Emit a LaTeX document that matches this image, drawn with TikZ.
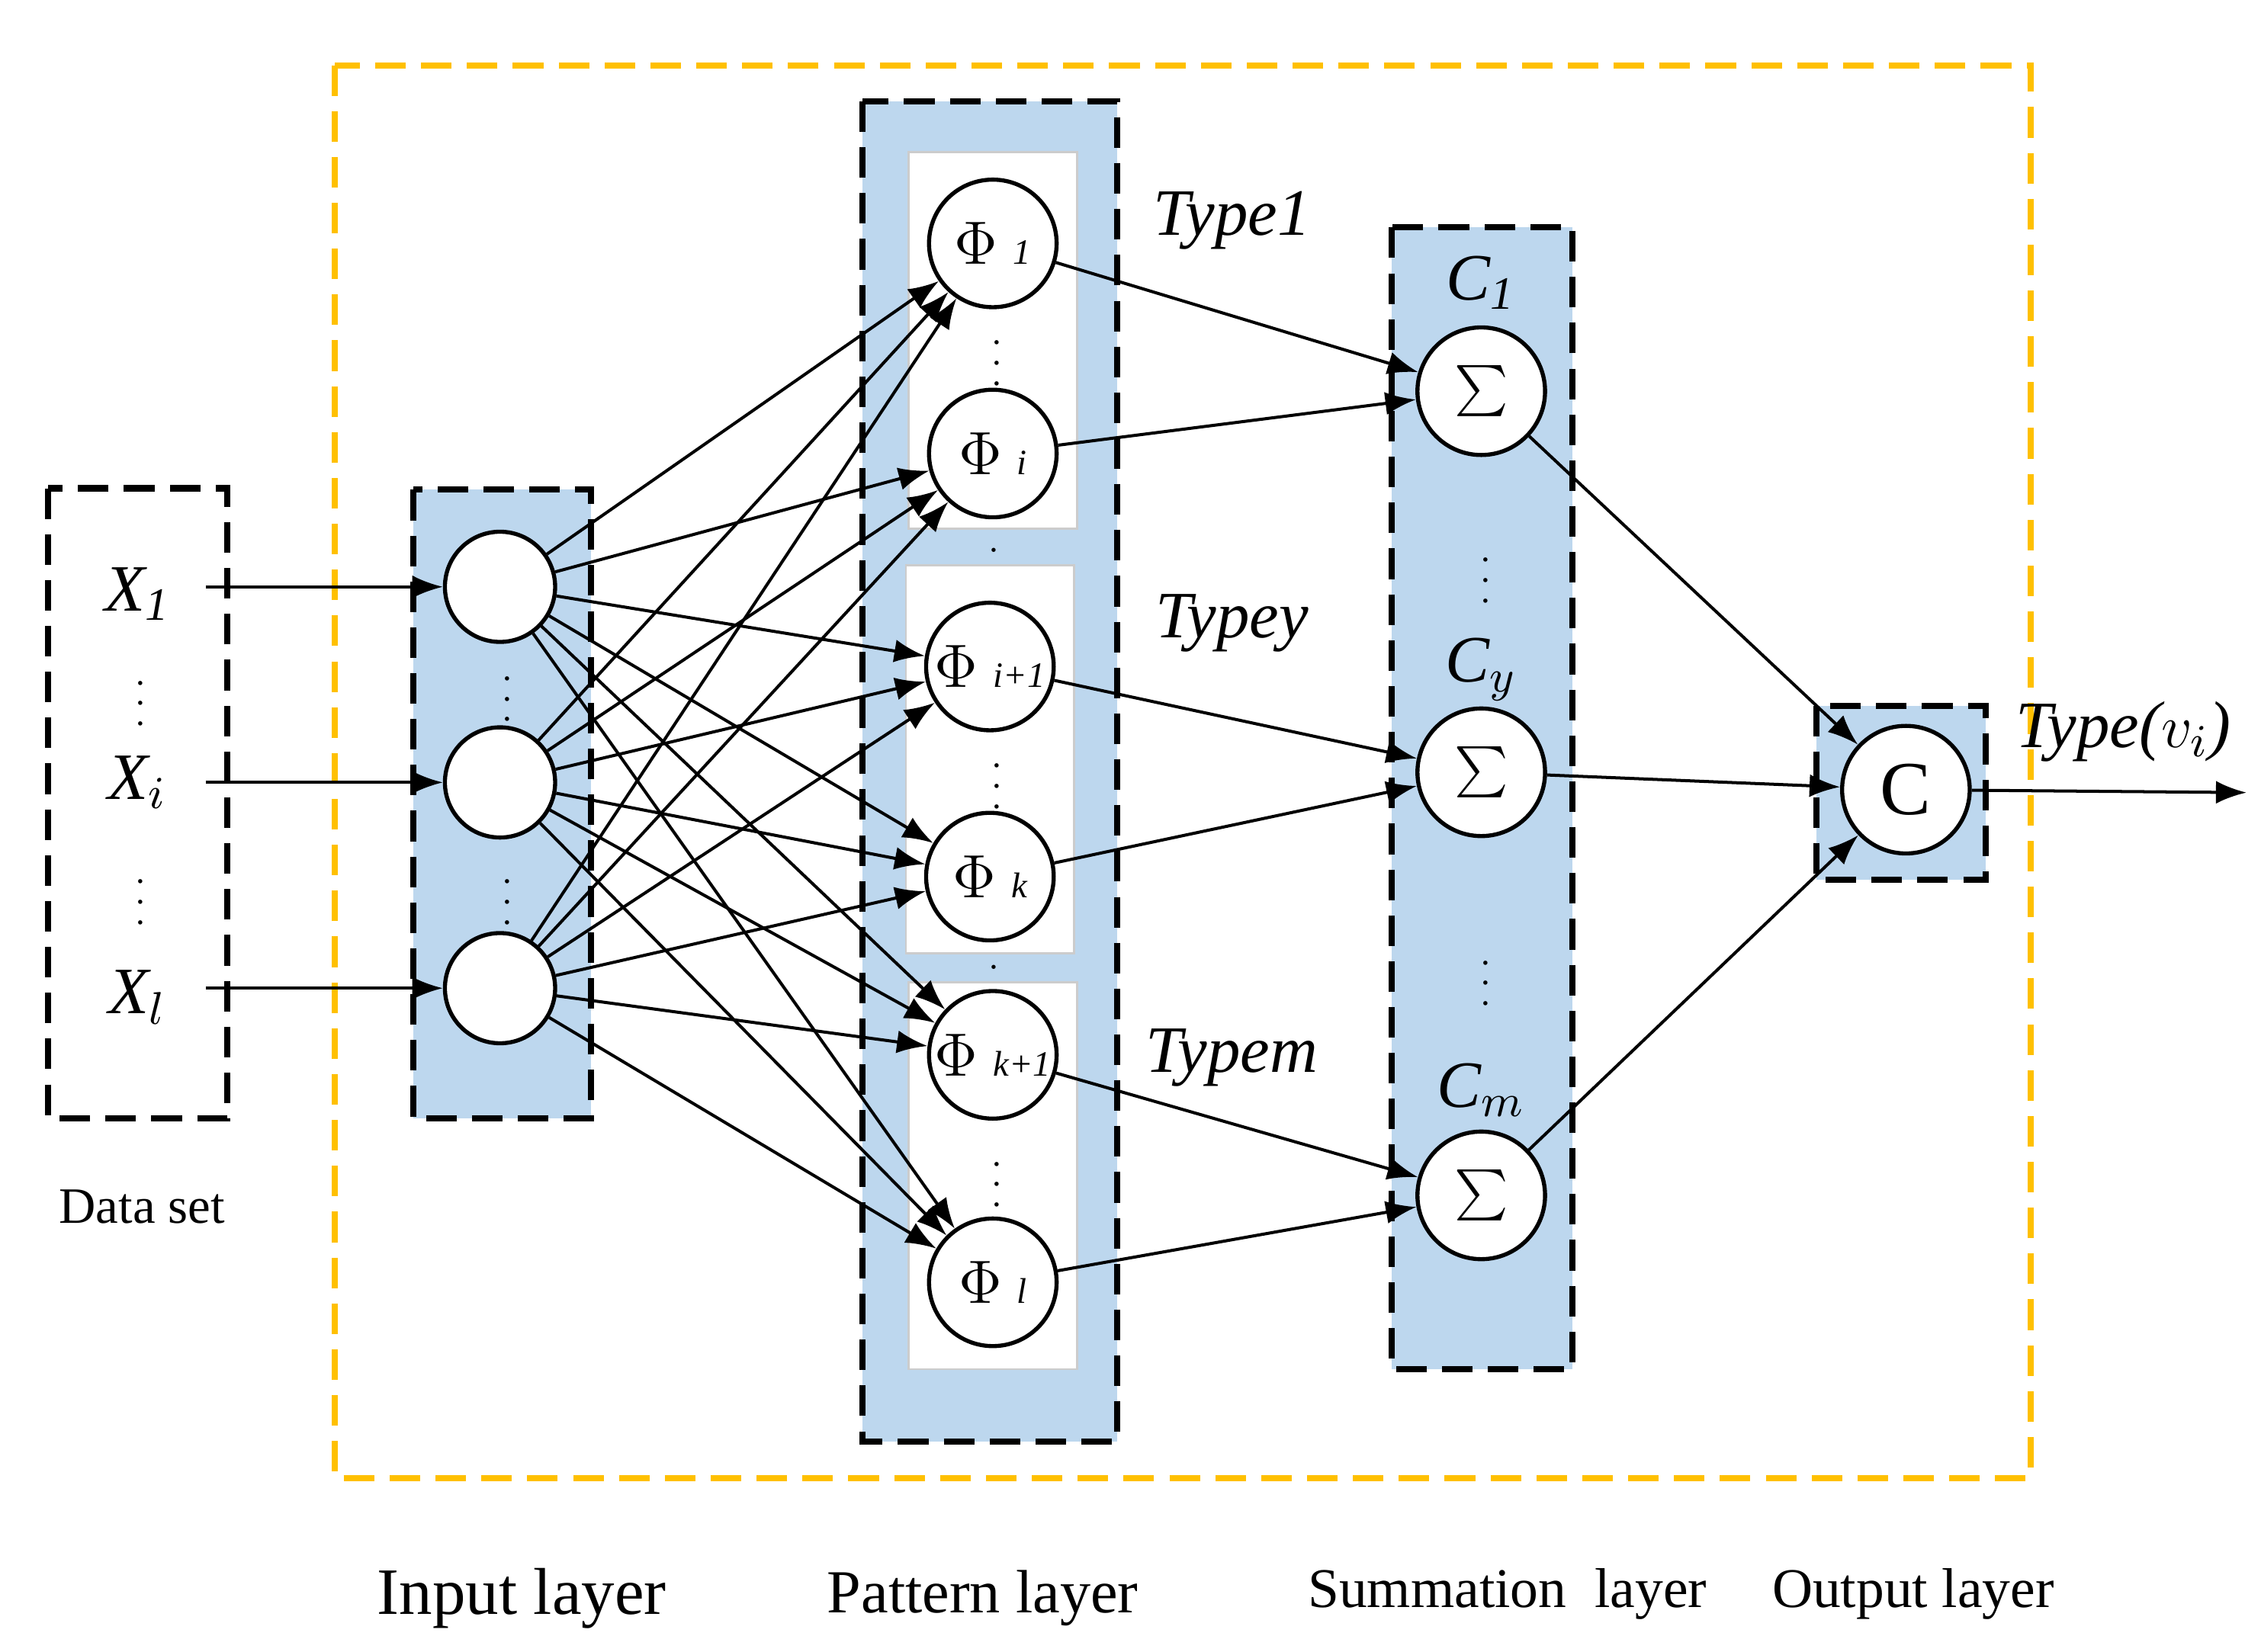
\documentclass[tikz,border=0pt]{standalone}
\usepackage{fontspec}
\setmainfont{Liberation Serif}
\usepackage{tikz}
\usetikzlibrary{arrows.meta}
\definecolor{layerblue}{RGB}{189,215,238}
\definecolor{frameorange}{RGB}{255,192,0}
\begin{document}
\begin{tikzpicture}[x=0.01cm,y=-0.01cm,
    roundnode/.style={circle, draw=black, thick, fill=white, minimum size=0.76cm, inner sep=0pt},
    bignode/.style={circle, draw=black, thick, fill=white, minimum size=0.88cm, inner sep=0pt, font=\fontsize{12}{14}\selectfont},
    layerbox/.style={draw=black, very thick, dash pattern=on 6pt off 3pt, fill=layerblue},
    arr/.style={-{Latex[length=6pt]}, black, semithick},
    lbl/.style={font=\fontsize{13}{15}\selectfont\itshape},
    dots/.style={font=\scriptsize, inner sep=0pt}]
\useasboundingbox (0,0) rectangle (1560,1140);
% frames
\draw[frameorange, very thick, dash pattern=on 6pt off 3pt] (231,45) rectangle (1401,1020);
\draw[very thick, dash pattern=on 6pt off 3pt] (33,337) rectangle (157,772);
\draw[layerbox] (285,338) rectangle (408,772);
\draw[layerbox] (595,70) rectangle (771,995);
\draw[layerbox] (960,157) rectangle (1085,945);
\draw[layerbox] (1253,487) rectangle (1370,607);
\draw[black!20, fill=white] (627,105) rectangle (743,365);
\draw[black!20, fill=white] (625,390) rectangle (741,658);
\draw[black!20, fill=white] (627,678) rectangle (743,945);
% data set
\node[lbl] (x1) at (95,410) {X$_{\mathit{1}}$};
\node[lbl] (xi) at (95,540) {X$_{i}$};
\node[lbl] (xl) at (95,688) {X$_{l}$};
\node[dots] at (97,475) {$\vdots$};
\node[dots] at (97,612) {$\vdots$};
\node[font=\fontsize{10}{12}\selectfont] (dataset) at (98,833) {Data set};
\coordinate (x1e) at (142,405);
\coordinate (xie) at (142,540);
\coordinate (xle) at (142,682);
% input layer
\node[roundnode] (in1) at (345,405) {};
\node[roundnode] (in2) at (345,540) {};
\node[roundnode] (in3) at (345,682) {};
\node[dots] at (350,472) {$\vdots$};
\node[dots] at (350,612) {$\vdots$};
% pattern layer
\node[bignode] (p1) at (685,168) {$\Phi$ {\scriptsize\itshape 1}};
\node[bignode] (p2) at (685,313) {$\Phi$ {\scriptsize\itshape i}};
\node[bignode] (p3) at (683,460) {$\Phi$ {\scriptsize\itshape i+1}};
\node[bignode] (p4) at (683,605) {$\Phi$ {\scriptsize\itshape k}};
\node[bignode] (p5) at (685,728) {$\Phi$ {\scriptsize\itshape k+1}};
\node[bignode] (p6) at (685,885) {$\Phi$ {\scriptsize\itshape l}};
\node[dots] at (688,240) {$\vdots$};
\node[dots] at (686,380) {$\cdot$};
\node[dots] at (688,532) {$\vdots$};
\node[dots] at (686,668) {$\cdot$};
\node[dots] at (688,807) {$\vdots$};
% summation layer
\node[bignode, font=\fontsize{16}{18}\selectfont] (s1) at (1022,270) {$\sum$};
\node[bignode, font=\fontsize{16}{18}\selectfont] (s2) at (1022,533) {$\sum$};
\node[bignode, font=\fontsize{16}{18}\selectfont] (s3) at (1022,825) {$\sum$};
\node[lbl] (c1) at (1022,195) {C$_{\mathit{1}}$};
\node[lbl] (cy) at (1022,462) {C$_{y}$};
\node[lbl] (cm) at (1022,752) {C$_{m}$};
\node[dots] at (1025,390) {$\vdots$};
\node[dots] at (1025,668) {$\vdots$};
% output layer
\node[bignode, font=\fontsize{15}{17}\selectfont] (out) at (1315,545) {C};
\coordinate (oute) at (1550,547);
\node[lbl] (typev) at (1465,505) {Type($v_i$)};
% type labels
\node[lbl] (t1) at (850,152) {Type1};
\node[lbl] (ty) at (850,430) {Typey};
\node[lbl] (tm) at (850,730) {Typem};
% layer titles
\node[font=\fontsize{13}{15}\selectfont] (inlab) at (360,1103) {Input layer};
\node[font=\fontsize{12}{14}\selectfont] (patlab) at (678,1103) {Pattern layer};
\node[font=\fontsize{11}{13}\selectfont] (sumlab) at (1040,1100) {Summation\ \ layer};
\node[font=\fontsize{11}{13}\selectfont] (outlab) at (1320,1100) {Output layer};
% connectors
\draw[arr] (x1e) -- (in1);
\draw[arr] (xie) -- (in2);
\draw[arr] (xle) -- (in3);
\foreach \i in {in1,in2,in3}
  \foreach \p in {p1,p2,p3,p4,p5,p6}
    \draw[arr] (\i) -- (\p);
\draw[arr] (p1) -- (s1);
\draw[arr] (p2) -- (s1);
\draw[arr] (p3) -- (s2);
\draw[arr] (p4) -- (s2);
\draw[arr] (p5) -- (s3);
\draw[arr] (p6) -- (s3);
\draw[arr] (s1) -- (out);
\draw[arr] (s2) -- (out);
\draw[arr] (s3) -- (out);
\draw[arr] (out) -- (oute);
\end{tikzpicture}
\end{document}
